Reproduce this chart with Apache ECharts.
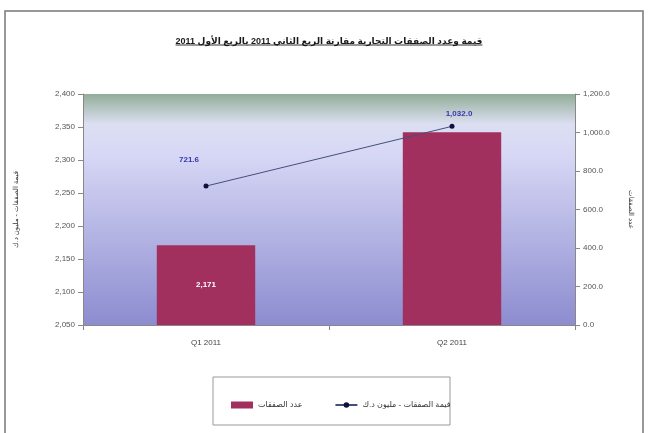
<!DOCTYPE html>
<html><head><meta charset="utf-8">
<script src="https://cdn.jsdelivr.net/npm/echarts@6/dist/echarts.min.js"></script>
<style>html,body{margin:0;padding:0;background:#fff}#c{width:658px;height:433px}</style>
</head><body><div id="c"></div>
<script>
const categories = ['Q1 2011', 'Q2 2011'];
const barName = 'عدد الصفقات';
const lineName = 'قيمة الصفقات - مليون د.ك';
const barValues = [2171, 2342];
const lineValues = [721.6, 1032.0];
const barLabelShown = [true, false];
const titleText = 'قيمة وعدد الصفقات التجارية مقارنة الربع الثاني 2011 بالربع الأول 2011';
const leftAxisName = 'قيمة الصفقات - مليون د.ك';
const rightAxisName = 'عدد الصفقات';

const FONT = "'Liberation Sans','DejaVu Sans',sans-serif";
const TITLE_FONT = "bold 9px " + FONT;
const lineLabelOffsets = [[-17, -14], [7, 0]];

const cv = document.createElement('canvas').getContext('2d');
cv.font = TITLE_FONT;
const titleW = cv.measureText(titleText).width;

const chart = echarts.init(document.getElementById('c'), null, {renderer: 'canvas'});
const fmtL = v => v.toLocaleString('en-US');
const fmtR = v => v.toLocaleString('en-US', {minimumFractionDigits: 1, maximumFractionDigits: 1});

chart.setOption({
  animation: false,
  backgroundColor: '#fff',
  title: {
    text: titleText, left: 'center', top: 32,
    textStyle: {fontFamily: FONT, fontSize: 9, fontWeight: 'bold', color: '#1a1a1a'}
  },
  graphic: [
    {type: 'rect', shape: {x: 5, y: 11, width: 638, height: 430}, style: {fill: 'none', stroke: '#777', lineWidth: 1.5}, z: -1},
    {type: 'rect', shape: {x: 213, y: 377, width: 237, height: 48}, style: {fill: '#fff', stroke: '#999', lineWidth: 1}, z: 0},
    {type: 'line', shape: {x1: 329 - titleW / 2, y1: 45, x2: 329 + titleW / 2, y2: 45}, style: {stroke: '#333', lineWidth: 1}}
  ],
  legend: {
    left: 226, top: 396, itemGap: 32, itemWidth: 22, itemHeight: 7,
    textStyle: {fontFamily: FONT, fontSize: 8, color: '#333'},
    data: [{name: barName, icon: 'rect'}, {name: lineName}], z: 5
  },
  grid: {
    left: 83, right: 83, top: 94, bottom: 108, show: true, borderWidth: 0,
    outerBoundsMode: 'none', containLabel: false,
    backgroundColor: new echarts.graphic.LinearGradient(0, 0, 0, 1, [
      {offset: 0, color: '#93ad98'},
      {offset: 0.13, color: '#dcdff2'},
      {offset: 0.25, color: '#d8d8f6'},
      {offset: 1, color: '#8c8cd0'}
    ])
  },
  xAxis: {
    type: 'category', data: categories,
    axisLine: {lineStyle: {color: '#888'}},
    axisTick: {show: true, alignWithLabel: false, lineStyle: {color: '#888'}},
    axisLabel: {fontFamily: FONT, fontSize: 8, color: '#444', margin: 14}
  },
  yAxis: [
    {
      type: 'value', min: 2050, max: 2400, interval: 50, position: 'left',
      name: leftAxisName, nameLocation: 'middle', nameGap: 63, nameRotate: 90,
      nameTextStyle: {fontFamily: FONT, fontSize: 7, color: '#333'},
      axisLine: {show: true, lineStyle: {color: '#888'}},
      axisTick: {show: true, lineStyle: {color: '#888'}},
      splitLine: {show: false},
      axisLabel: {fontFamily: FONT, fontSize: 8, color: '#555', formatter: fmtL}
    },
    {
      type: 'value', min: 0, max: 1200, interval: 200, position: 'right',
      name: rightAxisName, nameLocation: 'middle', nameGap: 52, nameRotate: -90,
      nameTextStyle: {fontFamily: FONT, fontSize: 7, color: '#333'},
      axisLine: {show: true, lineStyle: {color: '#888'}},
      axisTick: {show: true, inside: false, lineStyle: {color: '#888'}},
      splitLine: {show: false},
      axisLabel: {fontFamily: FONT, fontSize: 8, color: '#555', formatter: fmtR}
    }
  ],
  series: [
    {
      name: barName, type: 'bar', yAxisIndex: 0, barWidth: '40%',
      itemStyle: {color: '#a1305f'},
      data: barValues.map((v, i) => ({
        value: v,
        label: {show: barLabelShown[i], position: 'inside', color: '#fff', fontFamily: FONT, fontSize: 8, fontWeight: 'bold', formatter: p => fmtL(p.value)}
      }))
    },
    {
      name: lineName, type: 'line', yAxisIndex: 1,
      symbol: 'circle', symbolSize: 5,
      lineStyle: {color: '#45507a', width: 1},
      itemStyle: {color: '#101040'},
      data: lineValues.map((v, i) => ({
        value: v,
        label: {show: true, position: 'top', distance: 6, offset: lineLabelOffsets[i], color: '#3838b0', fontFamily: FONT, fontSize: 8, fontWeight: 'bold', formatter: p => fmtR(p.value)}
      }))
    }
  ]
});
</script></body></html>
